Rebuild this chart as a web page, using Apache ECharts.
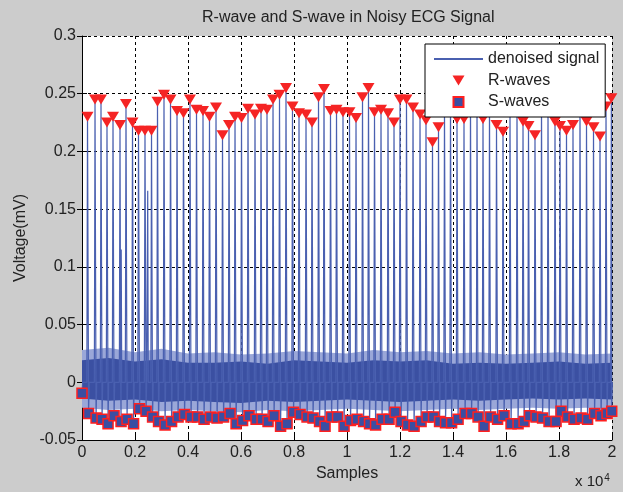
<!DOCTYPE html>
<html>
<head>
<meta charset="utf-8">
<script src="https://cdn.jsdelivr.net/npm/echarts@6/dist/echarts.min.js"></script>
<style>
html,body{margin:0;padding:0;background:#cccccc;}
#chart{width:623px;height:492px;}
</style>
</head>
<body>
<div id="chart"></div>
<script>
// ---- data (samples on x, mV on y) ----
const rPos = [208,491,717,943,1170,1434,1660,1906,2132,2377,2623,2849,3094,3340,3585,3830,4075,4321,4566,4811,5057,5302,5547,5774,6019,6264,6528,6755,6981,7208,7453,7698,7943,8189,8453,8679,8925,9132,9377,9604,9849,10094,10340,10585,10811,11038,11283,11547,11774,12000,12245,12491,12755,12981,13226,13453,13679,13906,14151,14415,14660,14906,15132,15377,15642,15887,16151,16415,16642,16849,17094,17340,17585,17849,18038,18283,18528,18792,19038,19302,19547,19774,19975];
const rVal = [0.230,0.245,0.245,0.225,0.230,0.223,0.241,0.225,0.218,0.218,0.218,0.243,0.249,0.245,0.235,0.233,0.245,0.236,0.235,
  0.230,0.238,0.214,0.223,0.230,0.229,0.237,0.232,0.237,0.236,0.245,0.249,0.255,0.239,0.233,0.232,0.225,0.247,0.254,0.235,0.236,0.234,
  0.234,0.229,0.247,0.255,0.234,0.236,0.233,0.225,0.245,0.245,0.238,0.232,0.227,0.208,0.221,0.241,0.246,0.228,0.228,0.243,0.240,
  0.228,0.240,0.223,0.217,0.238,0.241,0.226,0.222,0.214,0.242,0.239,0.226,0.222,0.218,0.223,0.241,0.226,0.221,0.213,0.239,0.246];
const sPos = [0,248,531,757,983,1210,1474,1700,1946,2172,2417,2663,2889,3134,3380,3625,3870,4115,4361,4606,4851,5097,5342,5587,5814,6059,6304,6568,6795,7021,7248,7493,7738,7983,8229,8493,8719,8965,9172,9417,9644,9889,10134,10380,10625,10851,11078,11323,11587,11814,12040,12285,12531,12795,13021,13266,13493,13719,13946,14191,14455,14700,14946,15172,15417,15682,15927,16191,16455,16682,16889,17134,17380,17625,17889,18078,18323,18568,18832,19078,19342,19587,19814,19990];
const sVal = [-0.0095,
  -0.027,-0.031,-0.032,-0.036,-0.029,-0.034,-0.032,-0.036,-0.023,-0.025,-0.030,-0.034,-0.037,-0.034,-0.030,-0.028,-0.030,-0.030,-0.032,-0.030,
  -0.031,-0.030,-0.027,-0.036,-0.033,-0.029,-0.032,-0.032,-0.034,-0.029,-0.038,-0.036,-0.026,-0.028,-0.030,-0.031,-0.034,-0.038,-0.030,-0.030,-0.038,
  -0.033,-0.032,-0.034,-0.036,-0.037,-0.032,-0.032,-0.026,-0.034,-0.037,-0.038,-0.034,-0.030,-0.030,-0.034,-0.035,-0.035,-0.032,-0.027,-0.027,-0.030,
  -0.038,-0.030,-0.032,-0.029,-0.036,-0.036,-0.034,-0.029,-0.030,-0.031,-0.034,-0.034,-0.025,-0.030,-0.032,-0.031,-0.032,-0.027,-0.029,-0.027,-0.025];
// isolated artefact spikes of the signal
const spikePos = [1480, 2480];
const spikeVal = [0.115, 0.166];
// envelope of the dense noise band
const bandX  = [0,1000,2000,3000,4000,5000,6000,7000,8000,9000,10000,11000,12000,13000,14000,15000,16000,17000,18000,19000,20000];
const bandHi = [0.019,0.021,0.018,0.020,0.017,0.017,0.018,0.016,0.019,0.018,0.017,0.019,0.018,0.019,0.016,0.017,0.016,0.017,0.018,0.016,0.017];
const bandLo = [-0.014,-0.016,-0.015,-0.017,-0.016,-0.017,-0.018,-0.016,-0.017,-0.016,-0.015,-0.016,-0.017,-0.016,-0.015,-0.016,-0.015,-0.014,-0.015,-0.014,-0.015];
const haloHi = [0.028,0.030,0.026,0.029,0.025,0.026,0.024,0.025,0.027,0.026,0.025,0.028,0.026,0.027,0.025,0.026,0.024,0.025,0.026,0.024,0.025];
const haloLo = [-0.022,-0.024,-0.023,-0.025,-0.024,-0.025,-0.026,-0.024,-0.025,-0.024,-0.023,-0.024,-0.025,-0.024,-0.023,-0.024,-0.023,-0.022,-0.023,-0.022,-0.023];
const xTicks = [0,0.2,0.4,0.6,0.8,1,1.2,1.4,1.6,1.8,2];

// ---- build signal polyline from beats ----
const pts = [];
pts.push([sPos[0], sVal[0]], [sPos[0] + 25, 0]);
for (let i = 0; i < rPos.length; i++) {
  pts.push([rPos[i] - 25, 0], [rPos[i], rVal[i]], [sPos[i + 1], sVal[i + 1]], [sPos[i + 1] + 25, 0]);
}
for (let k = 0; k < spikePos.length; k++) {
  pts.push([spikePos[k] - 20, 0], [spikePos[k], spikeVal[k]], [spikePos[k] + 20, 0]);
}
pts.sort((a, b) => a[0] - b[0]);

function bandSeries(hi, lo, color, z) {
  return {
    type: 'custom', silent: true, z: z, clip: true,
    data: [[0, 0]],
    renderItem: function (params, api) {
      const p = [];
      for (let i = 0; i < bandX.length; i++) p.push(api.coord([bandX[i], hi[i]]));
      for (let i = bandX.length - 1; i >= 0; i--) p.push(api.coord([bandX[i], lo[i]]));
      return { type: 'polygon', shape: { points: p }, style: { fill: color } };
    }
  };
}

const FONT = 'Liberation Sans, Arial, sans-serif';
const TXT = '#222';
const FS = 16;
const chart = echarts.init(document.getElementById('chart'));
chart.setOption({
  backgroundColor: '#cccccc',
  animation: false,
  title: {
    text: 'R-wave and S-wave in Noisy ECG Signal',
    left: 197, top: 5,
    textStyle: { fontFamily: FONT, fontSize: FS, fontWeight: 'normal', color: TXT }
  },
  grid: { left: 82, right: 11, top: 36, bottom: 52, show: true, backgroundColor: '#ffffff', borderWidth: 0 },
  legend: {
    orient: 'vertical', left: 425, top: 44, z: 30,
    backgroundColor: '#ffffff', borderColor: '#000', borderWidth: 1,
    padding: [7, 6, 7, 8], itemGap: 5.5, itemWidth: 49, itemHeight: 10,
    textStyle: { fontFamily: FONT, fontSize: FS, color: TXT },
    data: [
      { name: 'denoised signal', itemStyle: { opacity: 0 } },
      { name: 'R-waves' },
      { name: 'S-waves' }
    ]
  },
  xAxis: [{
    type: 'value', min: 0, max: 20000, interval: 2000, position: 'bottom',
    name: 'Samples', nameLocation: 'middle', nameGap: 26,
    nameTextStyle: { fontFamily: FONT, fontSize: FS, color: TXT },
    axisLine: { show: true, onZero: false, lineStyle: { color: '#000', width: 1 } },
    axisTick: { show: true, inside: true, length: 5, lineStyle: { color: '#000' } },
    axisLabel: { fontFamily: FONT, fontSize: FS, color: TXT, margin: 5,
      formatter: v => String(xTicks[Math.round(v / 2000)]) },
    splitLine: { show: true, lineStyle: { color: '#000', type: [3, 3], width: 1 } }
  }, {
    type: 'value', min: 0, max: 20000, interval: 2000, position: 'top',
    axisLine: { show: false }, axisLabel: { show: false }, splitLine: { show: false },
    axisTick: { show: true, inside: true, length: 5, lineStyle: { color: '#000' } }
  }],
  yAxis: [{
    type: 'value', min: -0.05, max: 0.3, interval: 0.05, position: 'left',
    name: 'Voltage(mV)', nameLocation: 'middle', nameGap: 42, nameRotate: 90,
    nameTextStyle: { fontFamily: FONT, fontSize: FS, color: TXT },
    axisLine: { show: true, onZero: false, lineStyle: { color: '#000', width: 1 } },
    axisTick: { show: true, inside: true, length: 5, lineStyle: { color: '#000' } },
    axisLabel: { fontFamily: FONT, fontSize: FS, color: TXT, margin: 6,
      formatter: v => String(+v.toFixed(2)) },
    splitLine: { show: true, lineStyle: { color: '#000', type: [3, 3], width: 1 } }
  }, {
    type: 'value', min: -0.05, max: 0.3, interval: 0.05, position: 'right',
    axisLine: { show: false }, axisLabel: { show: false }, splitLine: { show: false },
    axisTick: { show: true, inside: true, length: 5, lineStyle: { color: '#000' } }
  }],
  series: [
    bandSeries(haloHi, haloLo, '#9aa7d8', 2),
    bandSeries(bandHi, bandLo, '#3b50a2', 3),
    {
      name: 'denoised signal', type: 'line', data: pts, symbol: 'none', z: 4,
      lineStyle: { color: '#4a60b0', width: 1.2 }, itemStyle: { color: '#4a60b0' }
    },
    {
      name: 'R-waves', type: 'scatter', z: 6,
      data: rPos.map((p, i) => [p, rVal[i]]),
      symbol: 'path://M0,0L12,0L6,10Z', symbolSize: [12, 10],
      itemStyle: { color: '#f52424', opacity: 1 }
    },
    {
      name: 'S-waves', type: 'scatter', z: 5,
      data: sPos.map((p, i) => [p, sVal[i]]),
      symbol: 'path://M0,0L10,0L10,10L0,10Z', symbolSize: 10,
      itemStyle: { color: '#3a4ea2', borderColor: '#ff1f1f', borderWidth: 1.5, opacity: 1 }
    }
  ],
  graphic: [{
    type: 'text', left: 575, top: 473,
    style: {
      text: '{b|x 10}{s|4}', fill: TXT,
      rich: { b: { fontFamily: FONT, fontSize: 15, fill: TXT }, s: { fontFamily: FONT, fontSize: 10, fill: TXT, verticalAlign: 'top', padding: [0, 0, 8, 1] } }
    }
  }]
});
</script>
</body>
</html>
